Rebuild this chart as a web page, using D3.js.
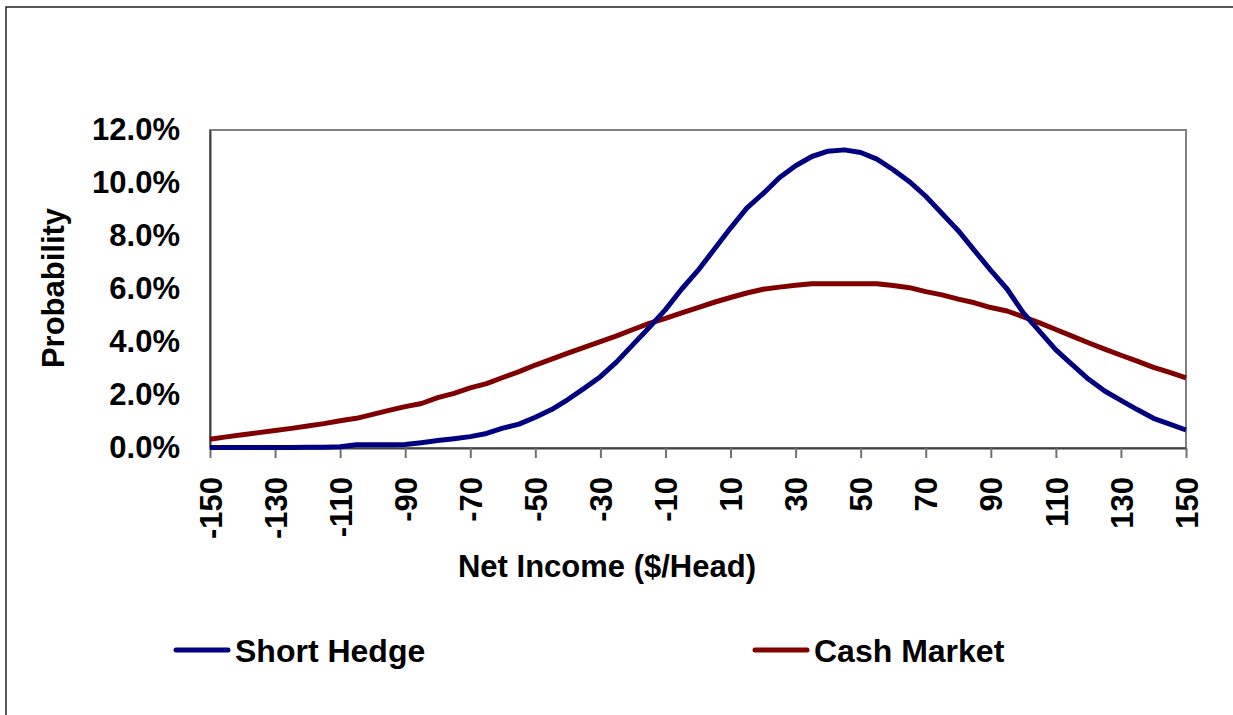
<!DOCTYPE html>
<html lang="en"><head><meta charset="utf-8">
<script type="text/javascript" src="https://cdn.jsdelivr.net/npm/d3@7/dist/d3.min.js"></script>
<style>
  body { margin: 0; background: #fff; }
  text { font-family: "Liberation Sans", Arial, sans-serif; font-weight: bold; fill: #000; }
</style>
</head>
<body>
<script type="text/javascript">
// net income in $/head, every 5
var income = d3.range(-150, 151, 5);
var tickIncome = [-150, -130, -110, -90, -70, -50, -30, -10, 10, 30, 50, 70, 90, 110, 130, 150];
var tickProb = [0, 2, 4, 6, 8, 10, 12];

// probability in percent
var shortHedge = [
  0.02, 0.02, 0.02, 0.02, 0.02, 0.02, 0.03, 0.03, 0.05, 0.12,
  0.12, 0.12, 0.13, 0.2, 0.28, 0.35, 0.43, 0.55, 0.75, 0.9,
  1.16, 1.45, 1.83, 2.25, 2.69, 3.25, 3.9, 4.55, 5.22, 6.0,
  6.7, 7.5, 8.3, 9.05, 9.6, 10.2, 10.65, 11.0, 11.2, 11.25,
  11.15, 10.9, 10.5, 10.05, 9.5, 8.85, 8.2, 7.45, 6.7, 6.0,
  5.1, 4.4, 3.7, 3.15, 2.6, 2.15, 1.8, 1.45, 1.12, 0.9, 0.68
];
var cashMarket = [
  0.33, 0.42, 0.5, 0.58, 0.66, 0.74, 0.83, 0.92, 1.03, 1.12,
  1.27, 1.42, 1.56, 1.68, 1.9, 2.06, 2.27, 2.43, 2.66, 2.88,
  3.13, 3.35, 3.58, 3.8, 4.01, 4.23, 4.47, 4.7, 4.89, 5.1,
  5.3, 5.5, 5.68, 5.85, 5.99, 6.07, 6.14, 6.2, 6.2, 6.2,
  6.2, 6.2, 6.13, 6.05, 5.9, 5.78, 5.62, 5.48, 5.3, 5.17,
  4.95, 4.72, 4.47, 4.22, 3.97, 3.73, 3.5, 3.28, 3.04, 2.85, 2.65
];

var width = 1233;
var height = 715;
var plotLeft = 210, plotRight = 1186, plotTop = 130, plotBottom = 448;

var svg = d3.select("body").append("svg")
            .attr("width", width)
            .attr("height", height);

// outer chart border
svg.append("rect")
   .attr("x", 6).attr("y", 7)
   .attr("width", width + 20).attr("height", height + 20)
   .attr("fill", "none").attr("stroke", "#222").attr("stroke-width", 1.5);

var x = d3.scaleLinear().domain([-150, 150]).range([plotLeft, plotRight]);
var y = d3.scaleLinear().domain([0, 12]).range([plotBottom, plotTop]);

// plot area
svg.append("rect")
   .attr("x", plotLeft).attr("y", plotTop)
   .attr("width", plotRight - plotLeft).attr("height", plotBottom - plotTop)
   .attr("fill", "none").attr("stroke", "#808080").attr("stroke-width", 2);

var xAxis = svg.append("g")
   .attr("transform", "translate(0," + plotBottom + ")")
   .call(d3.axisBottom(x).tickValues(tickIncome).tickSize(10).tickSizeOuter(0)
           .tickFormat(d => String(d)));
xAxis.select(".domain").attr("stroke", "#404040").attr("stroke-width", 2);
xAxis.selectAll(".tick line").attr("stroke", "#707070").attr("stroke-width", 2);
xAxis.selectAll(".tick text")
   .attr("transform", "rotate(-90)")
   .attr("x", -29).attr("y", 0).attr("dy", "0.36em")
   .attr("text-anchor", "end")
   .attr("font-size", 31)
   .attr("font-family", null);

var yAxis = svg.append("g")
   .attr("transform", "translate(" + plotLeft + ",0)")
   .call(d3.axisLeft(y).tickValues(tickProb).tickSize(0).tickPadding(30)
           .tickFormat(d => d.toFixed(1) + "%"));
yAxis.select(".domain").attr("stroke", "#404040").attr("stroke-width", 2);
yAxis.selectAll(".tick text").attr("font-size", 31).attr("font-family", null);

var line = d3.line().x((d, i) => x(income[i])).y(d => y(d));

svg.append("path").datum(cashMarket)
   .attr("d", line).attr("fill", "none")
   .attr("stroke", "#800000").attr("stroke-width", 5).attr("stroke-linejoin", "round");
svg.append("path").datum(shortHedge)
   .attr("d", line).attr("fill", "none")
   .attr("stroke", "#000080").attr("stroke-width", 5).attr("stroke-linejoin", "round");

svg.append("text")
   .attr("x", 607).attr("y", 577)
   .attr("text-anchor", "middle").attr("font-size", 31)
   .text("Net Income ($/Head)");

svg.append("text")
   .attr("transform", "translate(64,288) rotate(-90)")
   .attr("text-anchor", "middle").attr("font-size", 31)
   .text("Probability");

// legend
var legend = [
  {name: "Short Hedge", color: "#000080", x: 176},
  {name: "Cash Market", color: "#800000", x: 755}
];
var lg = svg.selectAll(".legend").data(legend).enter().append("g")
   .attr("transform", d => "translate(" + d.x + ",650)");
lg.append("line")
   .attr("x1", 0).attr("x2", 52).attr("y1", 0).attr("y2", 0)
   .attr("stroke", d => d.color).attr("stroke-width", 5).attr("stroke-linecap", "round");
lg.append("text")
   .attr("x", 59).attr("y", 12)
   .attr("font-size", 32)
   .text(d => d.name);
</script>
</body></html>
